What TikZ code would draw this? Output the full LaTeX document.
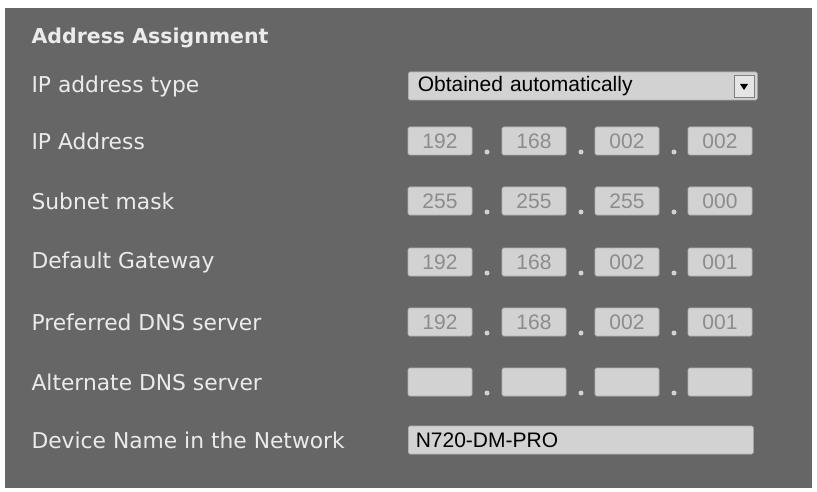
\documentclass[tikz,border=0pt]{standalone}
\usepackage{fontspec}
\setmainfont{DejaVu Sans}
\newfontfamily\fieldfont{Liberation Sans}
\usetikzlibrary{positioning}
\definecolor{panelgray}{HTML}{666666}
\definecolor{fieldgray}{HTML}{D2D2D2}
\definecolor{valuegray}{HTML}{8C8C8C}
\tikzset{
  label/.style={anchor=west, text=white!92!black, font=\fontsize{21.8}{25}\selectfont},
  field/.style={rectangle, rounded corners=1.5pt, fill=fieldgray, draw=fieldgray!85!black, line width=0.6pt, minimum height=28pt, minimum width=64pt, inner sep=0pt, font=\fieldfont\fontsize{21}{24}\selectfont, text=valuegray},
  sep/.style={circle, fill=fieldgray, inner sep=0pt, minimum size=5pt},
}
\begin{document}
\begin{tikzpicture}[x=1pt, y=-1pt]
  \useasboundingbox (0,0) rectangle (817,492);
  \fill[white] (0,0) rectangle (817,492);
  \fill[panelgray] (5,8) rectangle (812,488);
  \node[label, font=\bfseries\fontsize{20.5}{24}\selectfont] (title) at (28,38) {Address Assignment};
  % dropdown
  \node[label] (typelbl) at (28,86) {IP address type};
  \node[field, minimum width=349pt, text=black, anchor=west, text width=330pt, align=left, inner xsep=6pt] (type) at (408,86) {Obtained automatically};
  \node[rectangle, fill=white!90!black, draw=gray, minimum width=20pt, minimum height=22pt, inner sep=0pt] (typebtn) at (744,86) {};
  \fill[black] ([xshift=-4pt,yshift=2pt]typebtn.center) -- ([xshift=4pt,yshift=2pt]typebtn.center) -- ([yshift=-4pt]typebtn.center) -- cycle;
  % address rows
  \foreach \row/\y/\text/\a/\b/\c/\d in {ip/141/IP Address/192/168/002/002,
      mask/201/Subnet mask/255/255/255/000,
      gw/262/Default Gateway/192/168/002/001,
      dnsa/322/Preferred DNS server/192/168/002/001,
      dnsb/382/Alternate DNS server////} {
    \node[label] (\row-lbl) at (28,\y) {\text};
    \node[field] (\row-1) at (440,\y) {\a};
    \node[field] (\row-2) at (534,\y) {\b};
    \node[field] (\row-3) at (627,\y) {\c};
    \node[field] (\row-4) at (720,\y) {\d};
    \node[sep] at (487,\y+11) {};
    \node[sep] at (581,\y+11) {};
    \node[sep] at (674,\y+11) {};
  }
  \node[label] (namelbl) at (28,440) {Device Name in the Network};
  \node[field, minimum width=345pt, text=black, anchor=west, text width=330pt, align=left, inner xsep=6pt] (name) at (408,440) {N720-DM-PRO};
\end{tikzpicture}
\end{document}
